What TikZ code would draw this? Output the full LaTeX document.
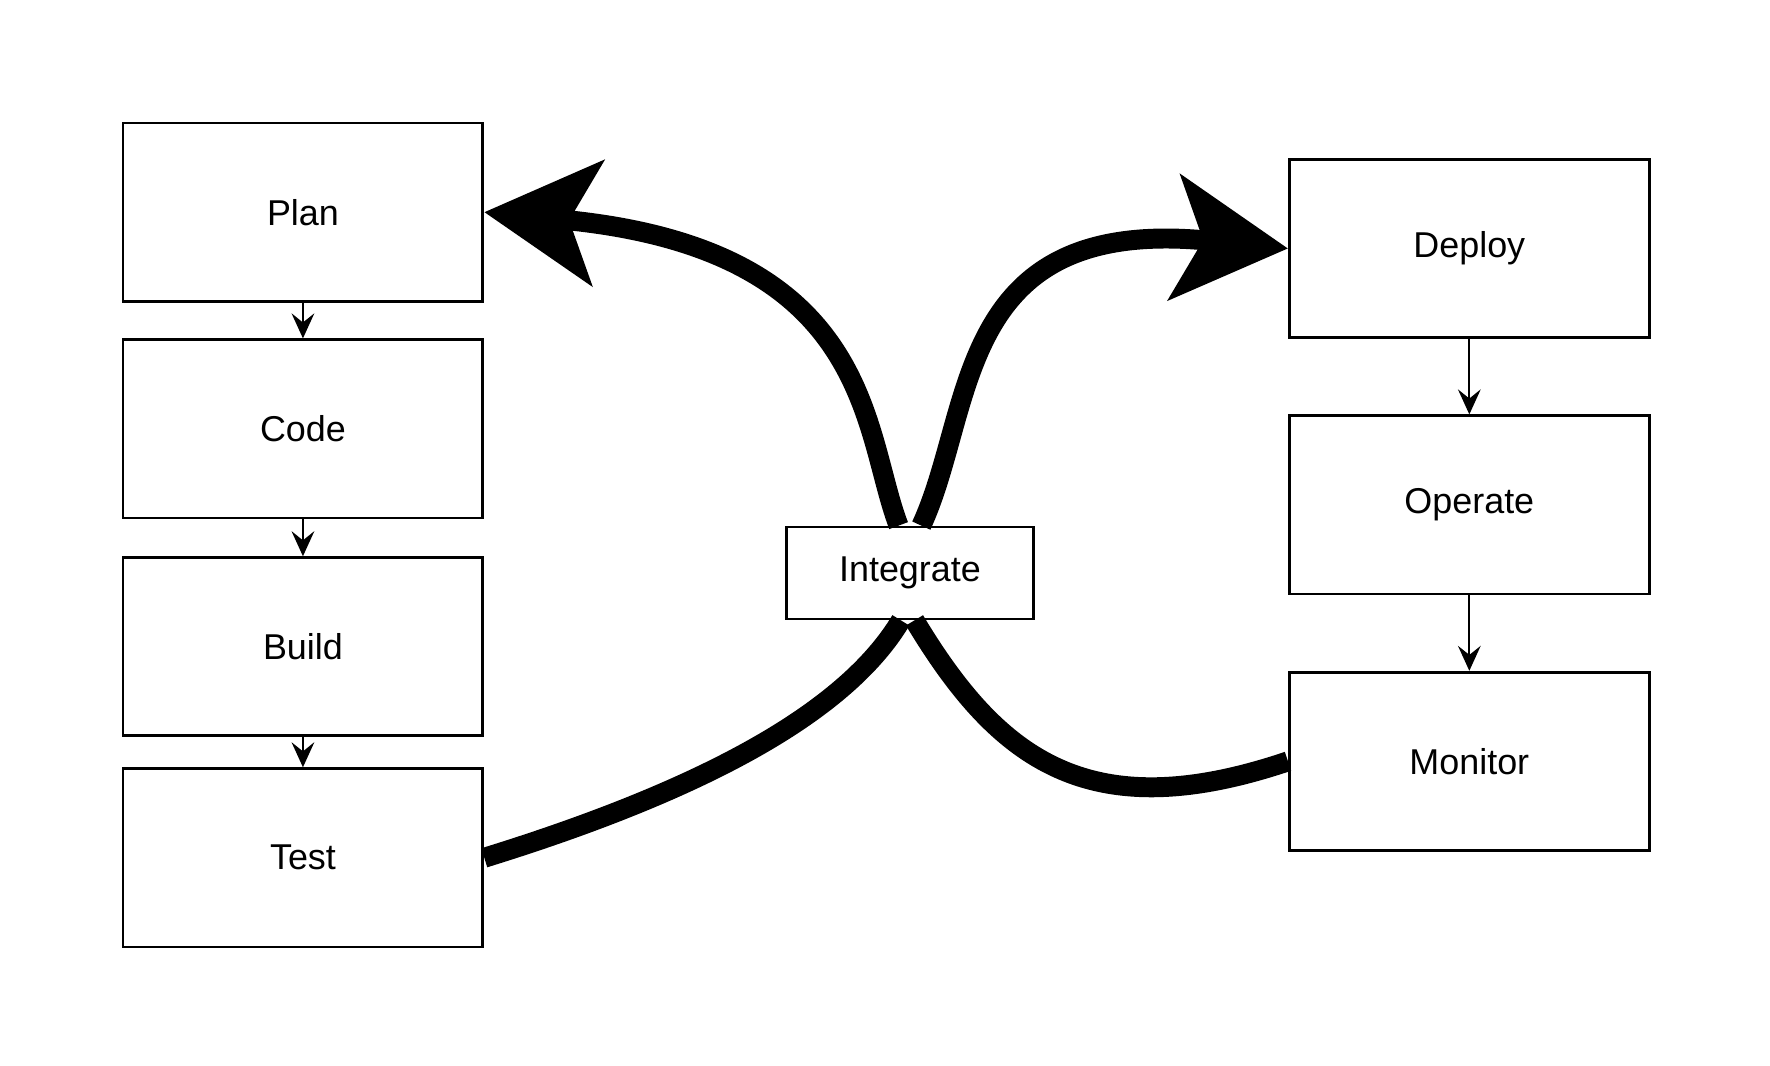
\documentclass[tikz,border=0pt]{standalone}
\usepackage{fontspec}
\setmainfont{Liberation Sans}
\usetikzlibrary{arrows.meta}
\tikzset{stage/.style={draw,line width=0.7pt,minimum width=3.17cm,minimum height=1.57cm,inner sep=0pt,font=\fontsize{9}{11}\selectfont},
  flow/.style={-{Stealth[length=2.2mm,width=2mm,inset=0.8mm]},line width=0.5pt},
  loop/.style={line width=5pt},
  loophead/.style={loop,-{Stealth[length=1cm,width=1.1cm,inset=0.25cm]}}
}
\begin{document}
\begin{tikzpicture}[x=0.01cm,y=-0.01cm]
  \useasboundingbox (0,0) rectangle (1560,939);
  \node[stage] (plan) at (267,187) {Plan};
  \node[stage] (code) at (267,378) {Code};
  \node[stage] (build) at (267,570) {Build};
  \node[stage] (test) at (267,756) {Test};
  \node[stage] (deploy) at (1295,219) {Deploy};
  \node[stage] (operate) at (1295,445) {Operate};
  \node[stage] (monitor) at (1295,671) {Monitor};
  \node[stage,minimum width=2.18cm,minimum height=0.81cm] (int) at (802,505) {Integrate};
  \draw[flow] (plan) -- (code);
  \draw[flow] (code) -- (build);
  \draw[flow] (build) -- (test);
  \draw[flow] (deploy) -- (operate);
  \draw[flow] (operate) -- (monitor);
  % the two loops through Integrate
  \draw[loophead] ([xshift=-0.1cm]int.north) .. controls (760,380) and (770,220) .. (plan.east);
  \draw[loophead] ([xshift=0.1cm]int.north) .. controls (860,360) and (840,190) .. (deploy.west);
  \draw[loop] (test.east) .. controls (640,690) and (750,620) .. ([xshift=-0.08cm]int.south);
  \draw[loop] ([xshift=0.04cm]int.south) .. controls (880,670) and (960,730) .. (monitor.west);
\end{tikzpicture}
\end{document}
